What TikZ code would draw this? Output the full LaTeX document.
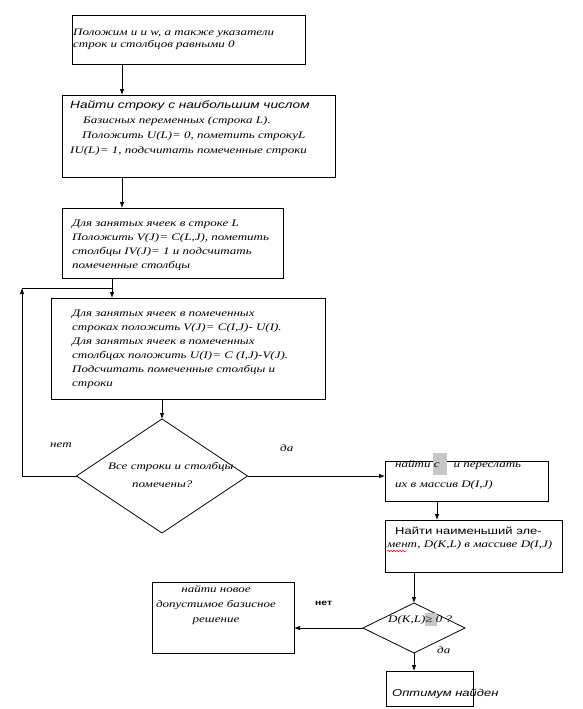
\documentclass[tikz,border=0pt]{standalone}
\usepackage{fontspec}
\setmainfont{Liberation Serif}
\newfontfamily\rit[FakeStretch=1.3]{Liberation Serif}
\newfontfamily\sit[FakeStretch=1.3]{Liberation Sans}
\usetikzlibrary{shapes.geometric,arrows.meta,decorations.pathmorphing}
\begin{document}
\begin{tikzpicture}[x=1pt,y=-1pt,
  box/.style={draw, line width=0.8pt, rectangle, inner sep=0pt, outer sep=0pt, anchor=north west},
  dia/.style={draw, line width=0.8pt, diamond, inner sep=0pt, outer sep=0pt},
  txt/.style={inner sep=0pt, anchor=north west, align=left, font=\rit\itshape\fontsize{10}{#1}\selectfont},
  txt/.default=14,
  ctxt/.style={inner sep=0pt, anchor=north, align=center, font=\rit\itshape\fontsize{10}{#1}\selectfont},
  ctxt/.default=15,
  arr/.style={-{Latex[length=6pt,width=4.5pt]}, line width=0.8pt},
  ln/.style={line width=0.8pt},
  hl/.style={fill=black!22, draw=none}
]
\useasboundingbox (0,0) rectangle (582,709);

% boxes
\node[box, minimum width=233pt, minimum height=49pt] (b1) at (72,15) {};
\node[box, minimum width=273pt, minimum height=82pt] (b2) at (62,95) {};
\node[box, minimum width=221pt, minimum height=70pt] (b3) at (62,208) {};
\node[box, minimum width=274pt, minimum height=101pt] (b4) at (51,298) {};
\node[dia, minimum width=171pt, minimum height=114pt] (d1) at (162,476) {};
\node[box, minimum width=163pt, minimum height=40pt] (b5) at (385,461) {};
\node[box, minimum width=177pt, minimum height=52pt] (b6) at (385,520) {};
\node[dia, minimum width=102pt, minimum height=50pt] (d2) at (414,628) {};
\node[box, minimum width=142pt, minimum height=71pt] (b7) at (152,582) {};
\node[box, minimum width=87pt, minimum height=35pt] (b8) at (386,671) {};

% highlights
\fill[hl] (433,453) rectangle (447,475);
\fill[hl] (425,613) rectangle (437,626);

% texts
\node[txt=12] (t1) at (73,29) {Положим u и w,  а также указатели\\строк и столбцов равными 0};
\node[txt=15] (t2) at (70,101) {{\sit\itshape\fontsize{10.5}{15}\selectfont Найти строку с наибольшим числом}\\
\hspace*{13pt}Базисных переменных (строка L).\\
\hspace*{12pt}Положить  U(L)= 0, пометить строкуL\\
IU(L)= 1, подсчитать помеченные строки};
\node[txt=14] (t3) at (72,220) {Для занятых ячеек в строке L\\Положить V(J)= C(L,J), пометить\\столбцы IV(J)= 1 и подсчитать\\помеченные столбцы};
\node[txt=14] (t4) at (72,310) {Для занятых ячеек в помеченных\\строках положить  V(J)= C(I,J)- U(I).\\Для занятых ячеек в помеченных\\столбцах положить  U(I)= C (I,J)-V(J).\\Подсчитать помеченные столбцы и\\строки};
\node[txt=18] (t5) at (108,462) {Все строки и столбцы\\\hspace*{24pt}помечены?};
\node[txt=20] (t6) at (395,460) {найти с\hspace*{14pt}и переслать\\их в массив D(I,J)};
\node[txt=13] (t7) at (395,527) {{\sit\upshape Найти наименьший  эле-}\\\hspace*{-8pt}мент, D(K,L) в массиве D(I,J)};
\node[ctxt=15] (t8) at (216,585) {найти новое\\допустимое базисное\\решение};
\node[txt] (t9) at (388,615) {D(K,L)≥ 0 ?};
\node[inner sep=0pt, anchor=north west, font=\sit\itshape\fontsize{10}{12}\selectfont] (t10) at (392,689) {Оптимум найден};

% labels
\node[txt] (l1) at (50,443) {нет};
\node[txt] (l2) at (280,444) {да};
\node[inner sep=0pt, anchor=north west, font=\sit\bfseries\fontsize{8}{10}\selectfont] (l3) at (315,601) {нет};
\node[txt] (l4) at (437,646) {да};

% red wavy underline
\draw[red, line width=0.6pt, decorate, decoration={snake, amplitude=0.7pt, segment length=3pt}] (387,551) -- (406,551);

% connector x positions
\coordinate (xa) at (122,0);
\coordinate (xb) at (112,0);
\coordinate (xc) at (437,0);
\coordinate (lc) at (22,288);

\draw[arr] (b1.south -| xa) -- (b2.north -| xa);
\draw[arr] (b2.south -| xa) -- (b3.north -| xa);
\draw[arr] (b3.south -| xb) -- (b4.north -| xb);
\draw[arr] (b4.south -| d1.north) -- (d1.north);
\draw[arr] (d1.west) -| (lc);
\draw[ln] (lc) -- (lc -| xb);
\draw[arr] (d1.east) -- (d1.east -| b5.west);
\draw[arr] (b5.south -| xc) -- (b6.north -| xc);
\draw[arr] (b6.south -| d2.north) -- (d2.north);
\draw[arr] (d2.west) -- (d2.west -| b7.east);
\draw[arr] (d2.south) -- (b8.north -| d2.south);
\end{tikzpicture}
\end{document}
